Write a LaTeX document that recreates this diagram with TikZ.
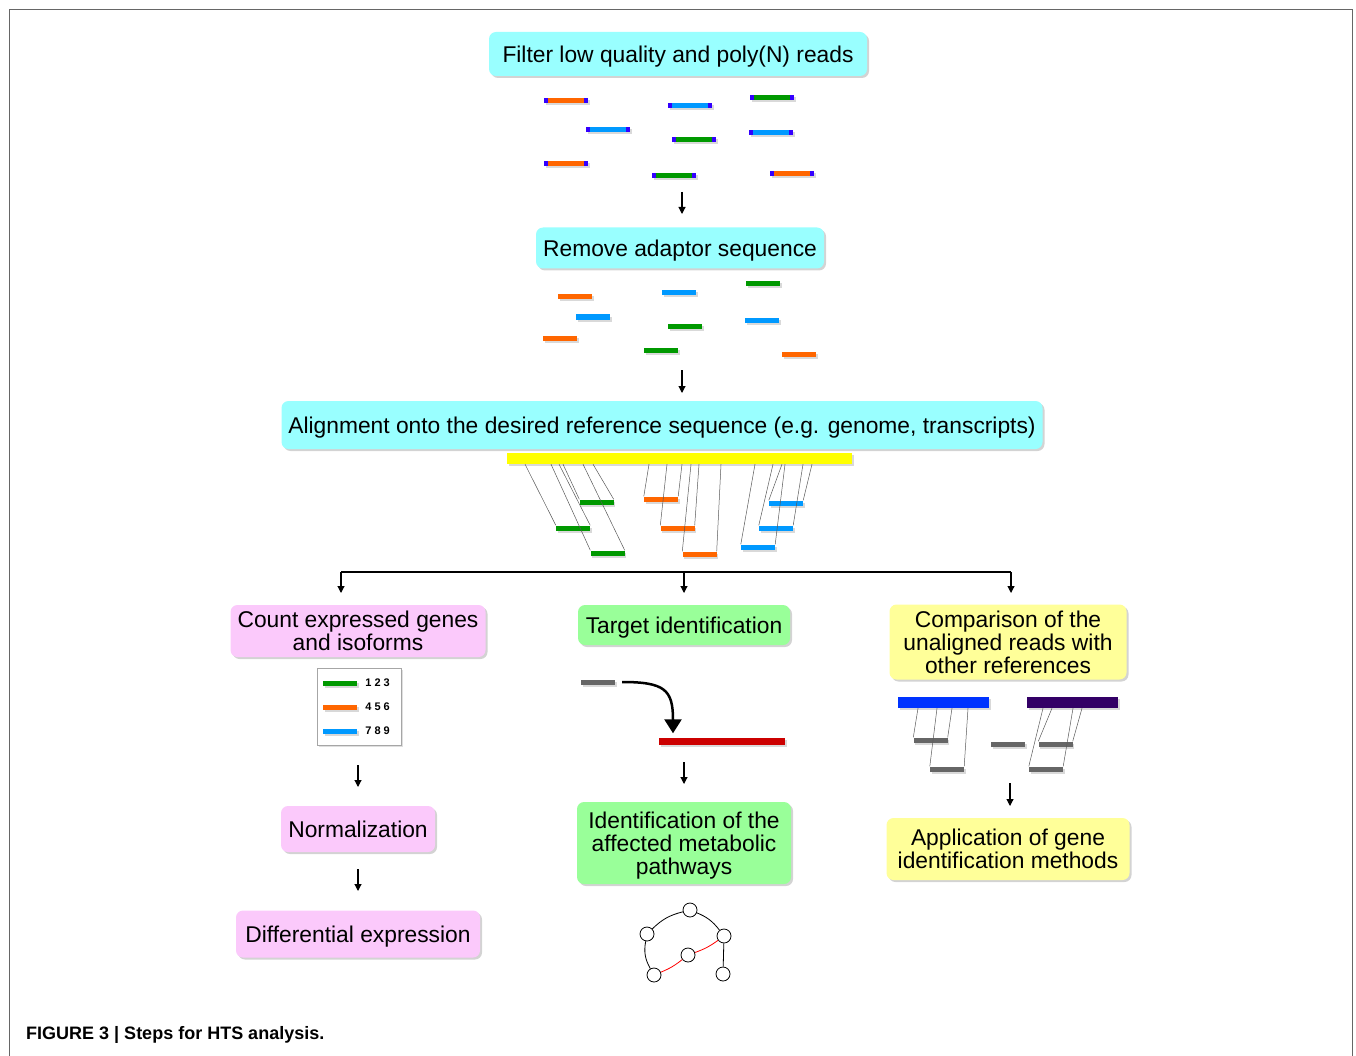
\documentclass[tikz,border=0pt]{standalone}
\usepackage{fontspec}
\setmainfont{Liberation Sans}
\usetikzlibrary{arrows.meta,shadows}
\definecolor{stepcyan}{HTML}{99FFFF}
\definecolor{steppink}{HTML}{FBC9FB}
\definecolor{stepgreen}{HTML}{99FF99}
\definecolor{stepyellow}{HTML}{FFFF99}
\definecolor{readorange}{HTML}{FF6600}
\definecolor{readblue}{HTML}{0099FF}
\definecolor{readgreen}{HTML}{009900}
\definecolor{readend}{HTML}{3300FF}
\definecolor{readgray}{HTML}{666666}
\definecolor{refyellow}{HTML}{FFFF00}
\definecolor{refred}{HTML}{CC0000}
\definecolor{refblue}{HTML}{0033FF}
\definecolor{refpurple}{HTML}{330066}
\tikzset{
    every node/.style={align=center,},
    stepbox/.style={rectangle,rounded corners=7pt,inner sep=0pt,text depth=0pt,
        font=\fontsize{22.8}{23}\selectfont,
        drop shadow={shadow xshift=2pt,shadow yshift=-2pt,opacity=0.35},},
    seqread/.style={rectangle,inner sep=0pt,minimum width=34pt,minimum height=5pt,
        drop shadow={shadow xshift=1.5pt,shadow yshift=-2pt,opacity=0.3},},
    rawread/.style={seqread,minimum width=44pt,
        path picture={
            \fill[readend] (path picture bounding box.south west) rectangle ([xshift=4pt]path picture bounding box.north west);
            \fill[readend] ([xshift=-4pt]path picture bounding box.south east) rectangle (path picture bounding box.north east);
        },},
    refbar/.style={seqread,minimum height=11pt},
    link/.style={draw=black!65,line width=0.5pt,},
    arr/.style={-{Triangle[length=7pt,width=7pt]},line width=1.1pt,},
    pathnode/.style={circle,draw,line width=0.8pt,minimum size=14pt,inner sep=0pt,},
}

\begin{document}
\begin{tikzpicture}[x=1pt,y=-1pt]
                \useasboundingbox (0,0) rectangle (1356,1056);
                \draw[black!60,line width=1pt] (9,1080) |- (1352,10) -- (1352,1080);

                % steps
                \node[stepbox,fill=stepcyan,minimum width=378,minimum height=44] (filter) at (678,54) {Filter low quality and poly(N) reads};
                \node[stepbox,fill=stepcyan,minimum width=288,minimum height=41] (adaptor) at (680,248) {Remove adaptor sequence};
                \node[stepbox,fill=stepcyan,minimum width=761,minimum height=48] (align) at (662,425) {Alignment onto the desired reference sequence (e.g. genome, transcripts)};

                \node[stepbox,fill=steppink,minimum width=255,minimum height=52] (count) at (358,631) {Count expressed genes\\and isoforms};
                \node[stepbox,fill=steppink,minimum width=154,minimum height=46] (norm) at (358,829) {Normalization};
                \node[stepbox,fill=steppink,minimum width=244,minimum height=47] (diffexp) at (358,934) {Differential expression};

                \node[stepbox,fill=stepgreen,minimum width=212,minimum height=40] (target) at (684,625) {Target identification};
                \node[stepbox,fill=stepgreen,minimum width=214,minimum height=82] (pathways) at (684,843) {Identification of the\\affected metabolic\\pathways};

                \node[stepbox,fill=stepyellow,minimum width=237,minimum height=75] (compare) at (1008,642) {Comparison of the\\unaligned reads with\\other references};
                \node[stepbox,fill=stepyellow,minimum width=243,minimum height=62] (genefind) at (1008,849) {Application of gene\\identification methods};

                % raw reads
                \foreach \x/\y/\c [count=\i] in {566/101/readorange,690/106/readblue,772/98/readgreen,
                        608/130/readblue,694/140/readgreen,771/133/readblue,
                        566/164/readorange,674/176/readgreen,792/174/readorange}
                    \node[rawread,fill=\c] (raw\i) at (\x,\y) {};

                % trimmed reads
                \foreach \x/\y/\c [count=\i] in {575/297/readorange,679/293/readblue,763/284/readgreen,
                        593/317/readblue,685/326/readgreen,762/320/readblue,
                        560/338/readorange,661/350/readgreen,799/354/readorange}
                    \node[seqread,fill=\c] (trim\i) at (\x,\y) {};

                % aligned reads
                \node[refbar,fill=refyellow,minimum width=345] (ref) at (679.5,458.5) {};
                \node[seqread,fill=readgreen] (g1) at (596.5,502) {};
                \node[seqread,fill=readgreen] (g2) at (573,528) {};
                \node[seqread,fill=readgreen] (g3) at (607.5,553) {};
                \node[seqread,fill=readorange] (o1) at (661,499) {};
                \node[seqread,fill=readorange] (o2) at (677.5,528) {};
                \node[seqread,fill=readorange] (o3) at (699.5,554) {};
                \node[seqread,fill=readblue] (b1) at (786,503) {};
                \node[seqread,fill=readblue] (b2) at (776,528) {};
                \node[seqread,fill=readblue] (b3) at (758,547) {};

                \draw[link] (525,0 |- ref.south) -- (g2.north west);
                \draw[link] (551,0 |- ref.south) -- (g3.north west);
                \draw[link] (559,0 |- ref.south) -- (g2.north east);
                \draw[link] (563,0 |- ref.south) -- (g1.north west);
                \draw[link] (583,0 |- ref.south) -- (g3.north east);
                \draw[link] (593,0 |- ref.south) -- (g1.north east);
                \draw[link] (649,0 |- ref.south) -- (o1.north west);
                \draw[link] (667,0 |- ref.south) -- (o2.north west);
                \draw[link] (682,0 |- ref.south) -- (o1.north east);
                \draw[link] (691,0 |- ref.south) -- (o3.north west);
                \draw[link] (699,0 |- ref.south) -- (o2.north east);
                \draw[link] (721,0 |- ref.south) -- (o3.north east);
                \draw[link] (755,0 |- ref.south) -- (b3.north west);
                \draw[link] (773,0 |- ref.south) -- (b2.north west);
                \draw[link] (782,0 |- ref.south) -- (b1.north west);
                \draw[link] (785,0 |- ref.south) -- (b3.north east);
                \draw[link] (803,0 |- ref.south) -- (b2.north east);
                \draw[link] (812,0 |- ref.south) -- (b1.north east);

                % flow arrows
                \coordinate (down1) at (682,192);
                \coordinate (down2) at (682,370);
                \draw[arr] (down1) -- ++(0,22);
                \draw[arr] (down2) -- ++(0,23);

                \coordinate (splitL) at (341,572);
                \coordinate (splitM) at (684,572);
                \coordinate (splitR) at (1011,572);
                \draw[line width=1.1pt] (splitL) -- (splitR);
                \draw[arr] (splitL) -- ++(0,21);
                \draw[arr] (splitM) -- ++(0,21);
                \draw[arr] (splitR) -- ++(0,21);

                % counts
                \node[draw=black!35,minimum width=84,minimum height=77,inner sep=0pt,
                    drop shadow={shadow xshift=1.5pt,shadow yshift=-1.5pt,opacity=0.25},fill=white] (legend) at (359,706.5) {};
                \node[seqread,fill=readgreen] (cnt1) at (340,683) {};
                \node[seqread,fill=readorange] (cnt2) at (340,707) {};
                \node[seqread,fill=readblue] (cnt3) at (340,731) {};
                \node[font=\fontsize{11}{12}\bfseries\selectfont,anchor=west,inner sep=0pt] at ([xshift=8pt]cnt1.east) {1 2 3};
                \node[font=\fontsize{11}{12}\bfseries\selectfont,anchor=west,inner sep=0pt] at ([xshift=8pt]cnt2.east) {4 5 6};
                \node[font=\fontsize{11}{12}\bfseries\selectfont,anchor=west,inner sep=0pt] at ([xshift=8pt]cnt3.east) {7 8 9};

                \coordinate (down3) at (358,765);
                \coordinate (down4) at (358,869);
                \draw[arr] (down3) -- ++(0,22);
                \draw[arr] (down4) -- ++(0,22);

                % target
                \node[seqread,fill=readgray] (probe) at (598,682) {};
                \node[seqread,fill=refred,minimum width=126,minimum height=7] (hit) at (722,741) {};
                \draw[-{Triangle[length=14pt,width=17pt]},line width=2.5pt]
                    ([xshift=7pt]probe.east) .. controls (665,682) and (673,690) .. ([xshift=-49pt,yshift=4pt]hit.north);
                \coordinate (down5) at (684,762);
                \draw[arr] (down5) -- ++(0,22);

                \node[pathnode] (ntop) at (690,910) {};
                \node[pathnode] (nleft) at (647,934) {};
                \node[pathnode] (nright) at (724,936) {};
                \node[pathnode] (nmid) at (688,955) {};
                \node[pathnode] (nbotl) at (654,975) {};
                \node[pathnode] (nbotr) at (723,974) {};
                \draw[line width=0.8pt] (nleft) to[bend left=15] (ntop);
                \draw[line width=0.8pt] (ntop) to[bend left=15] (nright);
                \draw[line width=0.8pt] (nleft) to[bend right=20] (nbotl);
                \draw[line width=0.8pt] (nright) -- (nbotr);
                \draw[red,line width=0.8pt] (nbotl) to[bend right=8] (nmid);
                \draw[red,line width=0.8pt] (nmid) to[bend right=8] (nright);

                % other references
                \node[refbar,fill=refblue,minimum width=91] (other1) at (943.5,702.5) {};
                \node[refbar,fill=refpurple,minimum width=91] (other2) at (1072.5,702.5) {};
                \node[seqread,fill=readgray] (c1) at (930.5,740) {};
                \node[seqread,fill=readgray] (c2) at (947,769) {};
                \node[seqread,fill=readgray] (c3) at (1008,744) {};
                \node[seqread,fill=readgray] (c4) at (1055.5,744) {};
                \node[seqread,fill=readgray] (c5) at (1046,769) {};
                \draw[link] (918,0 |- other1.south) -- (c1.north west);
                \draw[link] (937,0 |- other1.south) -- (c2.north west);
                \draw[link] (952,0 |- other1.south) -- (c1.north east);
                \draw[link] (968,0 |- other1.south) -- (c2.north east);
                \draw[link] (1043,0 |- other2.south) -- (c5.north west);
                \draw[link] (1052,0 |- other2.south) -- (c4.north west);
                \draw[link] (1073,0 |- other2.south) -- (c5.north east);
                \draw[link] (1082,0 |- other2.south) -- (c4.north east);
                \coordinate (down6) at (1010,783);
                \draw[arr] (down6) -- ++(0,23);

                \node[anchor=west,font=\fontsize{18}{20}\bfseries\selectfont,inner sep=0pt] (caption) at (26,1035) {FIGURE 3 | Steps for HTS analysis.};
            \end{tikzpicture}
\end{document}
